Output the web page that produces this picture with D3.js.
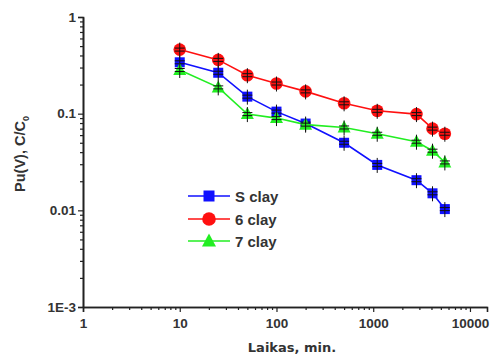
<!DOCTYPE html>
<html><head><meta charset="utf-8">
<script src="https://cdn.jsdelivr.net/npm/d3@7"></script>
<style>body{margin:0;background:#fff;} svg{display:block;}</style>
</head><body>
<script>
const times = [10, 25, 50, 100, 200, 500, 1100, 2800, 4100, 5500];
const sClay = [0.34, 0.265, 0.15, 0.105, 0.079, 0.05, 0.0295, 0.0205, 0.015, 0.0103];
const clay6 = [0.46, 0.36, 0.25, 0.205, 0.17, 0.128, 0.107, 0.099, 0.07, 0.062];
const clay7 = [0.283, 0.187, 0.099, 0.09, 0.077, 0.072, 0.062, 0.0513, 0.0414, 0.0313];
const seriesNames = ["S clay", "6 clay", "7 clay"];
const seriesColors = ["#1010ff", "#ff1010", "#22ee22"];
const seriesShapes = ["square", "circle", "triangle"];
const xTicks = [1, 10, 100, 1000, 10000];
const xTickLabels = ["1", "10", "100", "1000", "10000"];
const yTicks = [0.001, 0.01, 0.1, 1];
const yTickLabels = ["1E-3", "0.01", "0.1", "1"];

const W = 495, H = 356;
const svg = d3.select("body").append("svg").attr("width", W).attr("height", H);
const x = d3.scaleLog().domain([1, 15000]).range([83, 487]);
const y = d3.scaleLog().domain([0.001, 1]).range([307, 17]);
const txt = "#333";

// minor ticks
const minorX = [];
for (let d = 1; d < 15000; d *= 10) for (let k = 2; k <= 9; k++) if (d * k < 15000) minorX.push(d * k);
const minorY = [];
for (let d = 0.001; d < 0.99; d *= 10) for (let k = 2; k <= 9; k++) minorY.push(d * k);

const gx = svg.append("g").attr("transform", "translate(0,307)")
  .call(d3.axisBottom(x).tickValues(xTicks).tickFormat((d, i) => xTickLabels[i]).tickSizeOuter(0).tickSize(5).tickPadding(6));
gx.append("g").call(d3.axisBottom(x).tickValues(minorX).tickFormat("").tickSize(3).tickSizeOuter(0));
const gy = svg.append("g").attr("transform", "translate(83,0)")
  .call(d3.axisLeft(y).tickValues(yTicks).tickFormat((d, i) => yTickLabels[i]).tickSizeOuter(0).tickSize(5).tickPadding(2));
gy.append("g").call(d3.axisLeft(y).tickValues(minorY).tickFormat("").tickSize(3).tickSizeOuter(0));
svg.selectAll(".domain").attr("stroke", "#222").attr("stroke-width", 1.6);
svg.selectAll(".tick line").attr("stroke", "#222").attr("stroke-width", 1.2);
svg.selectAll(".tick text").attr("fill", txt).attr("font-family", "Liberation Sans, Arial, sans-serif")
  .attr("font-weight", "bold").attr("font-size", 13.5);

function drawMarker(g, shape, color, cx, cy, s) {
  if (shape === "square") g.append("rect").attr("x", cx - s).attr("y", cy - s).attr("width", 2 * s).attr("height", 2 * s).attr("fill", color);
  else if (shape === "circle") g.append("circle").attr("cx", cx).attr("cy", cy).attr("r", s + 1.3).attr("fill", color);
  else g.append("path").attr("d", `M${cx},${cy - s - 2}L${cx + s + 1.5},${cy + s}L${cx - s - 1.5},${cy + s}Z`).attr("fill", color);
}

const allData = [sClay, clay6, clay7];
const line = d3.line().x(d => x(d[0])).y(d => y(d[1]));
allData.forEach((vals, si) => {
  const pts = times.map((t, i) => [t, vals[i]]);
  const g = svg.append("g");
  g.append("path").attr("d", line(pts)).attr("fill", "none").attr("stroke", seriesColors[si]).attr("stroke-width", 1.6);
  pts.forEach(p => {
    const cx = x(p[0]), cy = y(p[1]);
    drawMarker(g, seriesShapes[si], seriesColors[si], cx, cy, 5);
    g.append("line").attr("x1", cx).attr("x2", cx).attr("y1", cy - 7).attr("y2", cy + 8).attr("stroke", "#111").attr("stroke-width", 1);
    g.append("line").attr("x1", cx - 5).attr("x2", cx + 5).attr("y1", cy - 1.5).attr("y2", cy - 1.5).attr("stroke", "#111").attr("stroke-width", 1);
    g.append("line").attr("x1", cx - 5).attr("x2", cx + 5).attr("y1", cy + 1.5).attr("y2", cy + 1.5).attr("stroke", "#111").attr("stroke-width", 1);
  });
});

// legend
const legY = [196, 219, 241];
seriesNames.forEach((name, i) => {
  const g = svg.append("g");
  g.append("line").attr("x1", 188).attr("x2", 230).attr("y1", legY[i]).attr("y2", legY[i]).attr("stroke", seriesColors[i]).attr("stroke-width", 1.4);
  drawMarker(g, seriesShapes[i], seriesColors[i], 209, legY[i], 5.5);
  g.append("text").attr("x", 235).attr("y", legY[i] + 5.5).text(name).attr("fill", txt)
    .attr("font-family", "Liberation Sans, Arial, sans-serif").attr("font-weight", "bold").attr("font-size", 15);
});

// axis titles
svg.append("text").attr("x", 292).attr("y", 352).attr("text-anchor", "middle").text("Laikas, min.")
  .attr("fill", txt).attr("font-family", "DejaVu Sans, Verdana, sans-serif").attr("font-weight", "bold").attr("font-size", 13);
const yt = svg.append("text").attr("transform", "translate(25,154) rotate(-90)").attr("text-anchor", "middle")
  .attr("fill", txt).attr("font-family", "Liberation Sans, Arial, sans-serif").attr("font-weight", "bold").attr("font-size", 14.5);
yt.append("tspan").text("Pu(V), C/C");
yt.append("tspan").text("0").attr("font-size", 9).attr("dy", 4);
</script>
</body></html>
